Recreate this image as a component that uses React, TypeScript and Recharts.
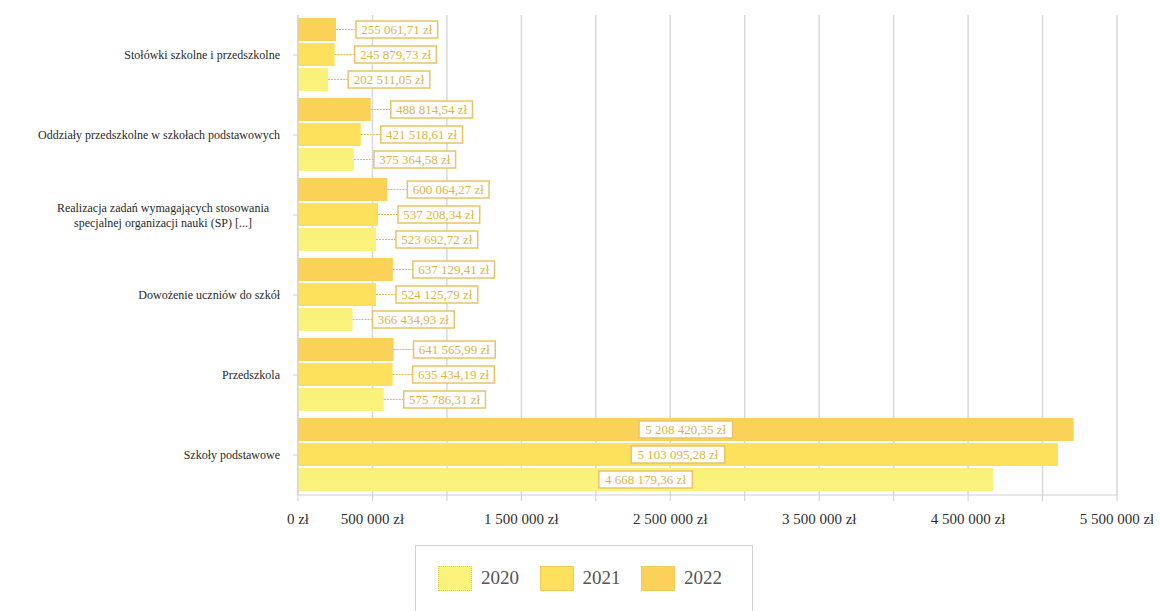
import React from "react";
import {
  BarChart,
  Bar,
  XAxis,
  YAxis,
  CartesianGrid,
  LabelList,
} from "recharts";

const categories = [
  "Stołówki szkolne i przedszkolne",
  "Oddziały przedszkolne w szkołach podstawowych",
  "Realizacja zadań wymagających stosowania\nspecjalnej organizacji nauki (SP) [...]",
  "Dowożenie uczniów do szkół",
  "Przedszkola",
  "Szkoły podstawowe",
];

const values2020 = [202511.05, 375364.58, 523692.72, 366434.93, 575786.31, 4668179.36];
const values2021 = [245879.73, 421518.61, 537208.34, 524125.79, 635434.19, 5103095.28];
const values2022 = [255061.71, 488814.54, 600064.27, 637129.41, 641565.99, 5208420.35];

const xTicks = [0, 500000, 1000000, 1500000, 2000000, 2500000, 3000000, 3500000, 4000000, 4500000, 5000000, 5500000];
const xLabelled = [0, 500000, 1500000, 2500000, 3500000, 4500000, 5500000];

const years = ["2020", "2021", "2022"];
const colors: Record<string, string> = {
  "2020": "#fbf27c",
  "2021": "#fde05b",
  "2022": "#fbd257",
};

const data = categories.map((name, i) => ({
  name,
  y2020: values2020[i],
  y2021: values2021[i],
  y2022: values2022[i],
}));

const FONT = "Liberation Serif, Times New Roman, DejaVu Serif, serif";

function groupDigits(n: number) {
  return String(n).replace(/\B(?=(\d{3})+(?!\d))/g, " ");
}

function formatMoney(v: number) {
  const [int, dec] = v.toFixed(2).split(".");
  return `${groupDigits(Number(int))},${dec} zł`;
}

function ValueLabel(props: any) {
  const { x, y, width, height, value } = props;
  const text = formatMoney(value);
  const boxW = text.length * 5.9 + 5;
  const boxH = 17;
  const cy = y + height / 2;
  const inside = width > 300;
  const bx = inside ? x + width / 2 - boxW / 2 : x + width + 20;
  return (
    <g>
      {!inside && (
        <line
          x1={x + width}
          y1={cy}
          x2={bx}
          y2={cy}
          stroke="#e4b94c"
          strokeWidth={1.2}
          strokeDasharray="2 1"
        />
      )}
      <rect
        x={bx}
        y={cy - boxH / 2}
        width={boxW}
        height={boxH}
        fill="#ffffff"
        stroke="#e9c466"
        strokeWidth={1.5}
      />
      <text
        x={bx + boxW / 2}
        y={cy + 4.5}
        textAnchor="middle"
        style={{ fontFamily: FONT, fontSize: 13 }}
        fill="#dfb444"
      >
        {text}
      </text>
    </g>
  );
}

function CategoryTick(props: any) {
  const { x, y, payload } = props;
  const lines = String(payload.value).split("\n");
  const lh = 15;
  const start = y - ((lines.length - 1) * lh) / 2 + 4;
  const multi = lines.length > 1;
  return (
    <text style={{ fontFamily: FONT, fontSize: 12 }} fill="#2a2a2a">
      {lines.map((l, i) => (
        <tspan key={i} x={multi ? x - 117 : x} y={start + i * lh} textAnchor={multi ? "middle" : "end"}>
          {l}
        </tspan>
      ))}
    </text>
  );
}

function MoneyTick(props: any) {
  const { x, y, payload } = props;
  const v = payload.value as number;
  if (!xLabelled.includes(v)) return null;
  return (
    <text x={x} y={y + 11} textAnchor="middle" style={{ fontFamily: FONT, fontSize: 15 }} fill="#2f2f2f">
      {`${groupDigits(v)} zł`}
    </text>
  );
}

export default function App() {
  return (
    <div style={{ position: "relative", width: 1153, height: 603, fontFamily: FONT }}>
      <BarChart
        width={1153}
        height={603}
        data={data}
        layout="vertical"
        margin={{ top: 7, right: 44, left: 0, bottom: 86 }}
        barCategoryGap={3}
        barGap={2}
      >
        <CartesianGrid horizontal={false} stroke="#d9d9d9" strokeWidth={1.5} />
        <XAxis
          type="number"
          domain={[0, 5500000]}
          ticks={xTicks}
          tick={<MoneyTick />}
          axisLine={{ stroke: "#cfcfcf" }}
          tickLine={{ stroke: "#cfcfcf" }}
          tickSize={6}
          tickMargin={12}
          height={30}
          interval={0}
        />
        <YAxis
          type="category"
          dataKey="name"
          width={290}
          tick={<CategoryTick />}
          axisLine={{ stroke: "#cfcfcf" }}
          tickLine={{ stroke: "#cfcfcf" }}
          tickSize={5}
          tickMargin={13}
          interval={0}
        />
        {years
          .slice()
          .reverse()
          .map((yr) => (
            <Bar key={yr} dataKey={`y${yr}`} fill={colors[yr]} isAnimationActive={false}>
              <LabelList dataKey={`y${yr}`} content={<ValueLabel />} />
            </Bar>
          ))}
      </BarChart>
      <div
        style={{
          position: "absolute",
          left: 407,
          top: 537,
          width: 338,
          height: 80,
          border: "1.5px solid #d0d0d0",
          background: "#fff",
          boxSizing: "border-box",
        }}
      >
        {years.map((yr, i) => (
          <React.Fragment key={yr}>
            <div
              style={{
                position: "absolute",
                left: 22 + i * 101.5,
                top: 20,
                width: 34,
                height: 25,
                background: colors[yr],
                border: i === 0 ? "1.5px dotted #efc25a" : "1px solid #f1cc55",
                boxSizing: "border-box",
              }}
            />
            <div
              style={{
                position: "absolute",
                left: 65 + i * 101.5,
                top: 19,
                fontSize: 19,
                color: "#555",
                lineHeight: "26px",
                fontFamily: FONT,
              }}
            >
              {yr}
            </div>
          </React.Fragment>
        ))}
      </div>
    </div>
  );
}
